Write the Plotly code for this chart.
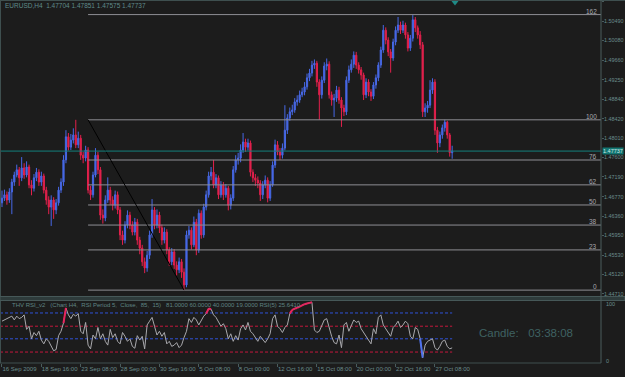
import plotly.graph_objects as go

W, H = 625, 377

# ---------------- data (EURUSD H4) ----------------
first_open = 1.4664
closes = [
    1.4674, 1.4681, 1.4670, 1.4687, 1.4708, 1.4723, 1.4734, 1.4717, 1.4738, 1.4723,
    1.4740, 1.4702, 1.4695, 1.4717, 1.4729, 1.4708, 1.4721, 1.4691, 1.4670, 1.4655,
    1.4670, 1.4649, 1.4664, 1.4691, 1.4708, 1.4755, 1.4804, 1.4782, 1.4797, 1.4808,
    1.4787, 1.4801, 1.4765, 1.4759, 1.4776, 1.4691, 1.4681, 1.4723, 1.4765, 1.4734,
    1.4638, 1.4632, 1.4670, 1.4691, 1.4670, 1.4659, 1.4681, 1.4649, 1.4596, 1.4585,
    1.4617, 1.4638, 1.4617, 1.4602, 1.4623, 1.4585, 1.4568, 1.4539, 1.4526, 1.4553,
    1.4596, 1.4649, 1.4617, 1.4638, 1.4611, 1.4585, 1.4602, 1.4564, 1.4539, 1.4560,
    1.4532, 1.4522, 1.4539, 1.4517, 1.4490, 1.4596, 1.4606, 1.4575, 1.4623, 1.4564,
    1.4642, 1.4596, 1.4655, 1.4681, 1.4721, 1.4729, 1.4702, 1.4717, 1.4681, 1.4702,
    1.4681, 1.4695, 1.4659, 1.4674, 1.4734, 1.4755, 1.4759, 1.4776, 1.4793, 1.4782,
    1.4791, 1.4729, 1.4717, 1.4712, 1.4706, 1.4681, 1.4702, 1.4712, 1.4674, 1.4702,
    1.4744, 1.4787, 1.4772, 1.4765, 1.4780, 1.4818, 1.4844, 1.4857, 1.4861, 1.4878,
    1.4882, 1.4893, 1.4899, 1.4910, 1.4929, 1.4939, 1.4956, 1.4960, 1.4920, 1.4893,
    1.4924, 1.4954, 1.4958, 1.4893, 1.4882, 1.4886, 1.4903, 1.4882, 1.4865, 1.4857,
    1.4924, 1.4946, 1.4958, 1.4977, 1.4956, 1.4946, 1.4935, 1.4893, 1.4920, 1.4899,
    1.4890, 1.4914, 1.4929, 1.4956, 1.4988, 1.5030, 1.5009, 1.4984, 1.4971, 1.5005,
    1.5030, 1.5041, 1.5030, 1.5041, 1.5020, 1.4992, 1.5013, 1.5052, 1.5035, 1.5020,
    1.4999, 1.4857, 1.4865, 1.4871, 1.4903, 1.4920, 1.4818, 1.4791, 1.4808, 1.4823,
    1.4835, 1.4808, 1.47704, 1.47737,
]
highs = [
    1.4690, 1.4692, 1.4688, 1.4695, 1.4715, 1.4730, 1.4745, 1.4740, 1.4761, 1.4748,
    1.4752, 1.4745, 1.4712, 1.4725, 1.4738, 1.4735, 1.4730, 1.4726, 1.4698, 1.4678,
    1.4680, 1.4676, 1.4672, 1.4698, 1.4716, 1.4765, 1.4818, 1.4812, 1.4810, 1.4822,
    1.4840, 1.4815, 1.4808, 1.4772, 1.4785, 1.4782, 1.4700, 1.4730, 1.4780, 1.4772,
    1.4740, 1.4650, 1.4680, 1.4718, 1.4698, 1.4678, 1.4690, 1.4688, 1.4655, 1.4605,
    1.4625, 1.4648, 1.4645, 1.4625, 1.4632, 1.4630, 1.4592, 1.4575, 1.4548, 1.4562,
    1.4605, 1.4672, 1.4655, 1.4650, 1.4645, 1.4618, 1.4612, 1.4608, 1.4570, 1.4568,
    1.4566, 1.4540, 1.4548, 1.4545, 1.4525, 1.4605, 1.4615, 1.4612, 1.4635, 1.4630,
    1.4650, 1.4648, 1.4662, 1.4690, 1.4730, 1.4740, 1.4755, 1.4725, 1.4722, 1.4710,
    1.4708, 1.4704, 1.4700, 1.4682, 1.4742, 1.4765, 1.4770, 1.4788, 1.4812, 1.4800,
    1.4800, 1.4796, 1.4735, 1.4725, 1.4720, 1.4712, 1.4710, 1.4722, 1.4718, 1.4710,
    1.4752, 1.4798, 1.4795, 1.4780, 1.4790, 1.4871, 1.4852, 1.4866, 1.4872, 1.4886,
    1.4892, 1.4902, 1.4908, 1.4920, 1.4938, 1.4948, 1.4965, 1.4968, 1.4965, 1.4926,
    1.4932, 1.4962, 1.4970, 1.4964, 1.4900, 1.4895, 1.4912, 1.4910, 1.4888, 1.4872,
    1.4932, 1.4955, 1.4968, 1.4985, 1.4984, 1.4962, 1.4952, 1.4940, 1.4928, 1.4926,
    1.4905, 1.4920, 1.4936, 1.4962, 1.4995, 1.5041, 1.5036, 1.5015, 1.4990, 1.5012,
    1.5038, 1.5058, 1.5048, 1.5050, 1.5046, 1.5026, 1.5020, 1.5062, 1.5058, 1.5040,
    1.5028, 1.5005, 1.4875, 1.4880, 1.4924, 1.4928, 1.4926, 1.4825, 1.4815, 1.4830,
    1.4840, 1.4838, 1.4812, 1.47851,
]
lows = [
    1.4655, 1.4668, 1.4660, 1.4664, 1.4640, 1.4700, 1.4718, 1.4700, 1.4710, 1.4715,
    1.4718, 1.4695, 1.4680, 1.4688, 1.4710, 1.4700, 1.4700, 1.4684, 1.4660, 1.4640,
    1.4615, 1.4630, 1.4640, 1.4658, 1.4685, 1.4700, 1.4748, 1.4775, 1.4776, 1.4790,
    1.4780, 1.4780, 1.4755, 1.4748, 1.4752, 1.4684, 1.4670, 1.4675, 1.4718, 1.4725,
    1.4628, 1.4620, 1.4625, 1.4664, 1.4660, 1.4648, 1.4652, 1.4640, 1.4585, 1.4575,
    1.4578, 1.4610, 1.4608, 1.4595, 1.4595, 1.4575, 1.4555, 1.4530, 1.4515, 1.4518,
    1.4545, 1.4590, 1.4608, 1.4610, 1.4600, 1.4575, 1.4578, 1.4555, 1.4530, 1.4532,
    1.4524, 1.4510, 1.4515, 1.4505, 1.4479, 1.4485, 1.4588, 1.4565, 1.4570, 1.4553,
    1.4558, 1.4588, 1.4590, 1.4648, 1.4675, 1.4712, 1.4695, 1.4695, 1.4672, 1.4675,
    1.4670, 1.4675, 1.4648, 1.4650, 1.4668, 1.4728, 1.4745, 1.4750, 1.4770, 1.4772,
    1.4775, 1.4720, 1.4708, 1.4700, 1.4695, 1.4668, 1.4672, 1.4695, 1.4665, 1.4668,
    1.4698, 1.4738, 1.4765, 1.4755, 1.4758, 1.4775, 1.4810, 1.4838, 1.4850, 1.4855,
    1.4870, 1.4876, 1.4888, 1.4892, 1.4904, 1.4922, 1.4932, 1.4948, 1.4910, 1.4840,
    1.4885, 1.4918, 1.4945, 1.4885, 1.4870, 1.4846, 1.4878, 1.4874, 1.4825, 1.4848,
    1.4850, 1.4918, 1.4940, 1.4950, 1.4948, 1.4938, 1.4925, 1.4882, 1.4886, 1.4890,
    1.4880, 1.4884, 1.4906, 1.4922, 1.4950, 1.4982, 1.5000, 1.4975, 1.4940, 1.4965,
    1.4998, 1.5024, 1.5022, 1.5024, 1.5012, 1.4985, 1.4986, 1.5006, 1.5026, 1.5012,
    1.4990, 1.4846, 1.4846, 1.4855, 1.4865, 1.4895, 1.4808, 1.4770, 1.4782, 1.4800,
    1.4815, 1.4800, 1.4762, 1.47575,
]
rsi = [
    68, 70, 71, 74, 76, 70, 76, 72, 74, 78,
    55, 60, 40, 50, 45, 52, 38, 32, 40, 36,
    28, 21, 23, 45, 52, 65, 89, 78, 72, 79,
    76, 80, 52, 48, 66, 30, 24, 46, 40, 58,
    40, 48, 36, 30, 55, 42, 48, 36, 32, 50,
    44, 36, 40, 28, 25, 45, 38, 44, 24, 62,
    68, 74, 60, 46, 52, 44, 50, 32, 36, 28,
    30, 34, 26, 30, 42, 52, 72, 66, 74, 70,
    62, 70, 76, 80, 88, 87, 78, 74, 68, 60,
    64, 56, 40, 48, 36, 45, 38, 56, 62, 54,
    66, 52, 48, 42, 36, 44, 38, 34, 40, 48,
    72, 78, 60, 56, 50, 58, 62, 80, 86, 88,
    89, 91, 93, 95, 96, 97, 98, 54, 50, 52,
    62, 70, 72, 56, 44, 34, 32, 46, 26, 62,
    66, 52, 62, 70, 66, 68, 56, 50, 44, 38,
    32, 56, 48, 74, 78, 62, 56, 50, 44, 58,
    62, 68, 58, 62, 68, 64, 44, 40, 58, 55,
    40, 10, 30, 36, 38, 40, 26, 22, 28, 36,
    38, 28, 24, 25.641,
]

time_labels = ["16 Sep 2009", "18 Sep 16:00", "23 Sep 08:00", "28 Sep 00:00",
               "30 Sep 16:00", "5 Oct 08:00", "8 Oct 00:00", "12 Oct 16:00",
               "15 Oct 08:00", "20 Oct 00:00", "22 Oct 16:00", "27 Oct 08:00"]
time_label_bars = [0, 16, 32, 48, 64, 80, 96, 112, 128, 144, 160, 176]
price_ticks = [1.50900, 1.50490, 1.50080, 1.49660, 1.49250, 1.48840, 1.48420, 1.48010,
               1.47600, 1.47190, 1.46770, 1.46360, 1.45950, 1.45530, 1.45120, 1.44710]
fib_low, fib_high = 1.4479, 1.4840
fib_start_bar, fib_end_bar = 35, 74
fib_ratios = [0.0, 0.236, 0.382, 0.5, 0.618, 0.764, 1.0, 1.618]
fib_labels = ["0", "23", "38", "50", "62", "76", "100", "162"]
rsi_levels = [81, 60, 40, 19]
rsi_level_kinds = ["blue", "red", "blue", "red"]
rsi_hi, rsi_lo = 85, 15
last_price = 1.47737
header = "EURUSD,H4  1.47704 1.47851 1.47575 1.47737"
rsi_title = ("THV RSI_v2   (Chart H4,  RSI Period 5,  Close,  85,  15)   "
             "81.0000 60.0000 40.0000 19.0000 RSI(5) 25.6410")
candle_text = "Candle:   03:38:08"

# ---------------- styling ----------------
BG = "#1c1c1c"
BLUE = "#4768e6"
RED = "#e3204c"
TXT = "#6a8c8c"
BORDER = "#3e4f4f"
FIBC = "#8e8e94"
TEAL = "#13807c"
FONT = "Liberation Sans"

bars = list(range(len(closes)))
opens = [first_open] + closes[:-1]

X_RIGHT_PX = 601
x_lo = -0.81
x_hi = 243.5
y_top_price = 1.5094
y_bot_price = 1.44644


def px(x):
    return x / W


def py(y):
    return 1 - y / H


fig = go.Figure()

fig.add_trace(go.Candlestick(
    x=bars, open=opens, high=highs, low=lows, close=closes,
    increasing=dict(line=dict(color=BLUE, width=1), fillcolor=BLUE),
    decreasing=dict(line=dict(color=RED, width=1), fillcolor=RED),
    whiskerwidth=0, xaxis="x", yaxis="y", hoverinfo="skip", showlegend=False))

# RSI level lines
lvl_col = {"blue": "#2f52d6", "red": "#c4183c"}
for lv, kind in zip(rsi_levels, rsi_level_kinds):
    fig.add_trace(go.Scatter(x=[x_lo, bars[-1]], y=[lv, lv], mode="lines",
                             line=dict(color=lvl_col[kind], width=1, dash="3px,2px"),
                             xaxis="x2", yaxis="y2", hoverinfo="skip", showlegend=False))

# RSI line
fig.add_trace(go.Scatter(x=bars, y=rsi, mode="lines",
                         line=dict(color="#a9a9ad", width=1),
                         xaxis="x2", yaxis="y2", hoverinfo="skip", showlegend=False))

hx, hy, lx, ly = [], [], [], []
for i in range(1, len(rsi)):
    if rsi[i] >= rsi_hi:
        hx += [bars[i - 1], bars[i], None]
        hy += [rsi[i - 1], rsi[i], None]
    if rsi[i] <= rsi_lo:
        lx += [bars[i - 1], bars[i], None]
        ly += [rsi[i - 1], rsi[i], None]
fig.add_trace(go.Scatter(x=hx, y=hy, mode="lines", line=dict(color="#e8245e", width=2),
                         xaxis="x2", yaxis="y2", hoverinfo="skip", showlegend=False))
fig.add_trace(go.Scatter(x=lx, y=ly, mode="lines", line=dict(color="#4f72ee", width=2),
                         xaxis="x2", yaxis="y2", hoverinfo="skip", showlegend=False))

shapes = []
annotations = []

# Fibonacci levels
rng = fib_high - fib_low
for r, lab in zip(fib_ratios, fib_labels):
    lvl = fib_low + r * rng
    shapes.append(dict(type="line", xref="x", yref="y", x0=fib_start_bar, x1=x_hi,
                       y0=lvl, y1=lvl, line=dict(color=FIBC, width=1)))
    annotations.append(dict(xref="paper", yref="y", x=px(598), y=lvl, text=lab,
                            showarrow=False, xanchor="right", yanchor="bottom",
                            font=dict(family=FONT, size=6.5, color="#a8a8ae"),
                            borderpad=0, yshift=-1))
shapes.append(dict(type="line", xref="x", yref="y", x0=fib_start_bar, y0=fib_high,
                   x1=fib_end_bar, y1=fib_low, line=dict(color="#000000", width=1)))

# current price line
shapes.append(dict(type="line", xref="paper", yref="y", x0=0, x1=px(X_RIGHT_PX),
                   y0=last_price, y1=last_price, line=dict(color=TEAL, width=1)))

# borders
shapes += [
    dict(type="line", xref="paper", yref="paper", x0=0, x1=1, y0=py(0.5), y1=py(0.5),
         line=dict(color=BORDER, width=1)),
    dict(type="line", xref="paper", yref="paper", x0=px(0.5), x1=px(0.5), y0=py(0), y1=py(363),
         line=dict(color=BORDER, width=1)),
    dict(type="rect", xref="paper", yref="paper", x0=0, x1=1, y0=py(300.5), y1=py(296.5),
         fillcolor="#2e3b3b", line=dict(color="#465858", width=1)),
    dict(type="line", xref="paper", yref="paper", x0=0, x1=px(X_RIGHT_PX), y0=py(363), y1=py(363),
         line=dict(color=BORDER, width=1)),
    dict(type="line", xref="paper", yref="paper", x0=px(X_RIGHT_PX), x1=px(X_RIGHT_PX),
         y0=py(0), y1=py(363), line=dict(color="#4a5c5c", width=1)),
    dict(type="path", xref="paper", yref="paper",
         path=f"M {px(451.5)},{py(1)} L {px(458.5)},{py(1)} L {px(455)},{py(5.5)} Z",
         fillcolor="#1f8a86", line=dict(width=0)),
]

# current price tag
annotations.append(dict(xref="paper", yref="y", x=px(602), y=last_price, text="1.47737",
                        showarrow=False, xanchor="left", yanchor="middle",
                        bgcolor="#127672", font=dict(family=FONT, size=5.5, color="#cfe9e6"),
                        borderpad=0))

annotations += [
    dict(xref="paper", yref="paper", x=px(3), y=py(6), text=header, showarrow=False,
         xanchor="left", yanchor="middle", font=dict(family=FONT, size=6.5, color="#5f8a8a")),
    dict(xref="paper", yref="paper", x=px(10), y=py(305), text=rsi_title, showarrow=False,
         xanchor="left", yanchor="middle", font=dict(family=FONT, size=6, color="#5f8484")),
    dict(xref="paper", yref="paper", x=px(477), y=py(333), text=candle_text, showarrow=False,
         xanchor="left", yanchor="middle", font=dict(family=FONT, size=11.5, color="#3f6262")),
    dict(xref="paper", yref="paper", x=px(604), y=py(303.5), text="100", showarrow=False,
         xanchor="left", yanchor="middle", font=dict(family=FONT, size=5.5, color=TXT)),
    dict(xref="paper", yref="paper", x=px(604), y=py(361), text="0", showarrow=False,
         xanchor="left", yanchor="middle", font=dict(family=FONT, size=5.5, color=TXT)),
]

fig.update_layout(
    width=W, height=H, margin=dict(l=0, r=0, t=0, b=0, pad=0, autoexpand=False),
    paper_bgcolor=BG, plot_bgcolor=BG, showlegend=False,
    font=dict(family=FONT, size=6, color=TXT),
    xaxis=dict(domain=[0, px(X_RIGHT_PX)], range=[x_lo, x_hi], anchor="y",
               showgrid=False, zeroline=False, showticklabels=False, ticks="",
               rangeslider=dict(visible=False), fixedrange=True, automargin=False),
    yaxis=dict(domain=[py(297), 1], range=[y_bot_price, y_top_price], anchor="x",
               side="right", showgrid=False, zeroline=False, automargin=False,
               tickvals=price_ticks, ticktext=[f"{v:.5f}" for v in price_ticks],
               ticks="outside", ticklen=2, tickcolor="#4a5c5c", ticklabelstandoff=-1,
               tickfont=dict(family=FONT, size=5.4, color=TXT), fixedrange=True),
    xaxis2=dict(domain=[0, px(X_RIGHT_PX)], range=[x_lo, x_hi], anchor="y2",
                showgrid=False, zeroline=False, tickvals=time_label_bars,
                ticktext=time_labels, ticks="outside", ticklen=3, tickcolor="#4a5c5c",
                ticklabelposition="outside right", tickangle=0, automargin=False,
                tickfont=dict(family=FONT, size=6, color=TXT), fixedrange=True),
    yaxis2=dict(domain=[py(363), py(300)], range=[1.6, 101.6], anchor="x2",
                side="right", showgrid=False, zeroline=False, showticklabels=False,
                ticks="", fixedrange=True, automargin=False),
    shapes=shapes, annotations=annotations,
)

fig.write_html("out.html")
